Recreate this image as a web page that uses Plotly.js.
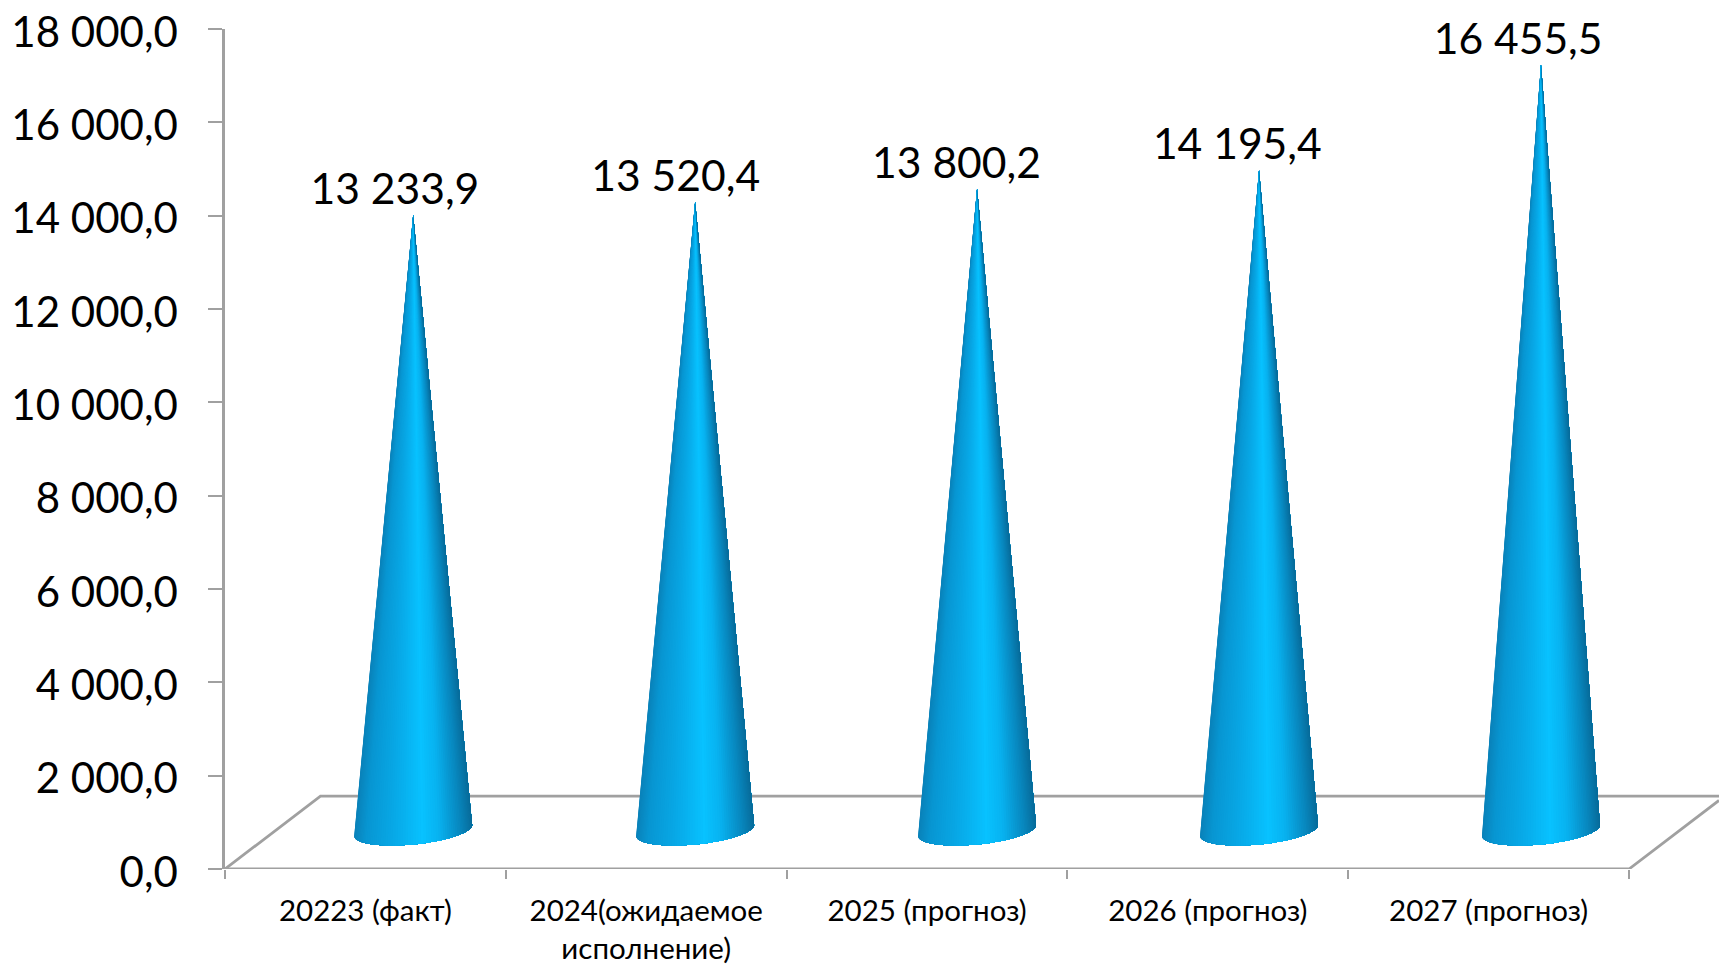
<!DOCTYPE html>
<html><head><meta charset="utf-8">
<script src="https://cdn.plot.ly/plotly-3.0.1.min.js"></script>
<style>html,body{margin:0;padding:0;background:#fff}#c{width:1719px;height:964px}</style></head>
<body><div id="c"></div>
<script>
const categories = ["20223 (факт)", "2024(ожидаемое<br>исполнение)", "2025 (прогноз)", "2026 (прогноз)", "2027 (прогноз)"];
const values = [13233.9, 13520.4, 13800.2, 14195.4, 16455.5];
const valueLabels = ["13 233,9", "13 520,4", "13 800,2", "14 195,4", "16 455,5"];
const yTicks = [0,2000,4000,6000,8000,10000,12000,14000,16000,18000];
const yTickLabels = ["0,0","2 000,0","4 000,0","6 000,0","8 000,0","10 000,0","12 000,0","14 000,0","16 000,0","18 000,0"];
const shadeStops = [[0,[10,130,185]],[0.1,[8,150,210]],[0.35,[8,170,232]],[0.58,[8,194,255]],[0.72,[8,178,240]],[0.9,[8,135,190]],[1,[8,108,155]]];
const axisColor = "#a0a0a0";

const W=1719,H=964,L=224.7,T=29,B=869.5,catPx=(1629-224.7)/5;
const xMax=(W-L)/catPx;
const depthX=0.17, depthY=780, baseY=825, floorX=0.34, floorY=1560, coneStep=1.0041;
const baseHalf=0.21, baseMinor=14/840.6*18000, baseTilt=5.5/840.6*18000;
function shade(t){for(let i=1;i<shadeStops.length;i++){if(t<=shadeStops[i][0]){const a=shadeStops[i-1],b=shadeStops[i],f=(t-a[0])/(b[0]-a[0]);return `rgb(${a[1].map((v,k)=>Math.round(v+(b[1][k]-v)*f)).join(",")})`;}}return "rgb(8,108,155)";}
const traces=[];
traces.push({x:[0,floorX,xMax],y:[0,floorY,floorY],mode:"lines",line:{color:axisColor,width:2.8},hoverinfo:"skip",cliponaxis:false});
traces.push({x:[0,5,xMax],y:[0,0,floorY*(xMax-5)/floorX],mode:"lines",line:{color:axisColor,width:2.8},hoverinfo:"skip",cliponaxis:false});
const bands=70;
for(let b=0;b<bands;b++){
  const t0=b/bands,tm=(b+0.5)/bands;
  const xs=[],ys=[];
  values.forEach((v,i)=>{
    const cx=(i+0.5)*coneStep+depthX-0.002;
    xs.push(cx);ys.push(v+depthY);
    for(let k=0;k<=bands-b;k++){
      const th=Math.PI*(1-(t0+k/bands));
      xs.push(cx+baseHalf*Math.cos(th));
      ys.push(baseY-baseMinor*Math.sin(th)+baseTilt*Math.cos(th));
    }
    xs.push(cx,null);ys.push(v+depthY,null);
  });
  const col=shade((1-Math.cos(Math.PI*tm))/2);
  traces.push({x:xs,y:ys,mode:"none",fill:"toself",fillcolor:col,hoverinfo:"skip"});
}
traces.push({x:values.map((v,i)=>i+0.5+0.105),y:values.map(v=>v+depthY),mode:"text",text:valueLabels,textposition:"top center",textfont:{family:"Lato",size:42.6,color:"#000"},hoverinfo:"skip",cliponaxis:false});
const layout={width:W,height:H,showlegend:false,paper_bgcolor:"#fff",plot_bgcolor:"rgba(0,0,0,0)",
 margin:{l:L,r:0,t:T,b:H-B,pad:0},
 xaxis:{range:[0,xMax],tickmode:"array",tickvals:categories.map((c,i)=>i+0.5),ticktext:categories,ticks:"",showgrid:false,zeroline:false,showline:false,tickangle:0,
   ticklabelstandoff:21,tickfont:{family:"Lato",size:29.5,color:"#000"},
   minor:{tickmode:"array",tickvals:[0,1,2,3,4,5],ticks:"outside",ticklen:9,tickwidth:2,tickcolor:axisColor,showgrid:false}},
 yaxis:{range:[0,18000],tickmode:"array",tickvals:yTicks,ticktext:yTickLabels,ticks:"outside",ticklen:14,tickwidth:2,tickcolor:axisColor,showline:true,linecolor:axisColor,linewidth:2.8,showgrid:false,zeroline:false,
   ticklabelstandoff:22,ticklabelshift:3,tickfont:{family:"Lato",size:42,color:"#000"}}
};
Plotly.newPlot("c",traces,layout,{displayModeBar:false,staticPlot:true});
</script></body></html>
